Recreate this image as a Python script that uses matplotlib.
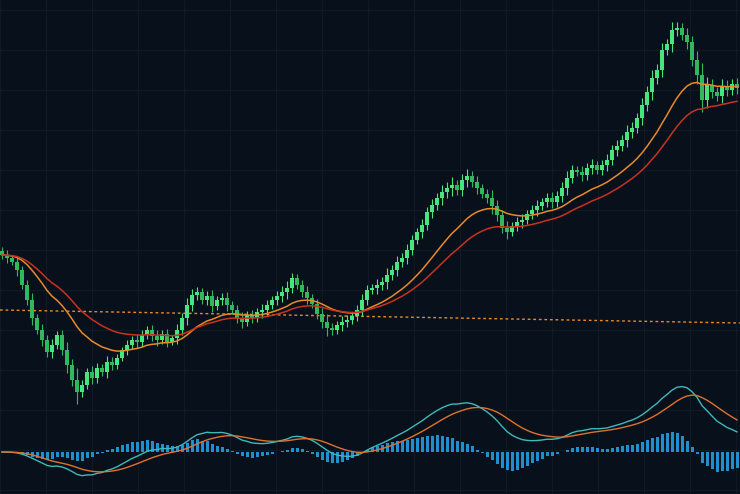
import numpy as np
import pandas as pd
import matplotlib
matplotlib.use('Agg')
import matplotlib.pyplot as plt

# closes in screen-level units (smaller = higher on the chart)
closes = [255, 258, 262, 270, 285, 300, 318, 330, 340, 352,
          345, 335, 350, 365, 380, 392, 385, 372, 378, 368,
          372, 362, 365, 358, 350, 345, 340, 342, 335, 330,
          336, 340, 334, 342, 338, 330, 318, 305, 295, 292,
          300, 296, 306, 300, 298, 305, 310, 318, 322, 315,
          318, 312, 310, 305, 300, 296, 292, 288, 278, 285,
          292, 298, 304, 314, 322, 328, 330, 325, 322, 320,
          316, 310, 300, 290, 288, 285, 282, 275, 270, 262,
          258, 250, 240, 232, 225, 212, 205, 198, 192, 188,
          185, 190, 180, 176, 182, 188, 194, 198, 206, 215,
          228, 232, 226, 222, 220, 214, 210, 206, 202, 198,
          202, 196, 188, 178, 170, 172, 175, 168, 165, 170,
          165, 160, 150, 146, 140, 132, 128, 118, 105, 92,
          78, 70, 50, 44, 30, 28, 35, 42, 60, 75,
          100, 85, 92, 96, 86, 90, 84, 88]
wicks = [4, 5, 3, 6, 4, 5, 7, 4, 6, 5,
         6, 4, 5, 8, 6, 12, 5, 4, 6, 5,
         4, 6, 5, 4, 3, 5, 4, 6, 5, 4,
         5, 6, 4, 5, 3, 6, 5, 7, 6, 5,
         4, 5, 6, 4, 5, 6, 4, 5, 6, 4,
         5, 4, 6, 5, 4, 5, 6, 7, 5, 4,
         5, 6, 4, 5, 6, 8, 5, 4, 6, 5,
         4, 5, 6, 5, 4, 6, 5, 7, 5, 6,
         5, 6, 5, 4, 6, 5, 6, 5, 7, 6,
         8, 5, 6, 7, 5, 6, 4, 5, 8, 6,
         5, 7, 4, 5, 6, 4, 5, 6, 4, 5,
         6, 5, 6, 7, 5, 4, 6, 5, 6, 4,
         5, 6, 5, 6, 5, 7, 6, 5, 7, 6,
         8, 6, 7, 5, 8, 6, 5, 7, 6, 9,
         12, 8, 6, 5, 7, 6, 5, 6]
dotted_ends = [310, 323]

bg = '#08111b'
fig = plt.figure(figsize=(7.4, 4.94), dpi=100, facecolor=bg)
ax = fig.add_axes([0, 0, 1, 1])
ax.set_facecolor(bg)
ax.set_xlim(0, 740)
ax.set_ylim(494, 0)
ax.axis('off')

for gx in np.arange(0, 740, 46):
    ax.axvline(gx, color='#111c27', lw=0.6, zorder=0)
for gy in np.arange(10, 494, 40):
    ax.axhline(gy, color='#111c27', lw=0.6, zorder=0)

c = np.array(closes, dtype=float)
o = np.concatenate([[c[0] - 4], c[:-1]])
w = np.array(wicks, dtype=float)
x = 2 + 5 * np.arange(len(c))
hi = np.minimum(o, c) - w
lo = np.maximum(o, c) + w
up = c < o
cols = np.where(up, '#4ae47e', '#32b85c')
ax.vlines(x, hi, lo, color=cols, lw=0.8, zorder=3)
ax.bar(x, np.maximum(np.abs(c - o), 2), bottom=np.minimum(o, c), width=3.4,
       color=cols, zorder=4)

s = pd.Series(c)
ax.plot(x, s.ewm(span=18, adjust=False).mean(), color='#e8892a', lw=1.1, zorder=5)
ax.plot(x, s.ewm(span=30, adjust=False).mean(), color='#c8321e', lw=1.1, zorder=5)
ax.plot([0, 740], dotted_ends, color='#e8892a', lw=1.0, ls=(0, (2, 2)), zorder=2)

# MACD panel, drawn in the same space
price = pd.Series(494 - c)
macd = price.ewm(span=12).mean() - price.ewm(span=26).mean()
sig = macd.ewm(span=9).mean()
hist = macd - sig
base = 452
ax.bar(x, -hist * 2.2, bottom=base, width=3.0, color='#1f8fd0', zorder=3)
ax.plot(x, base - macd * 1.6, color='#3fb8b8', lw=1.0, zorder=4)
ax.plot(x, base - sig * 1.6, color='#e0712a', lw=1.0, zorder=4)

fig.savefig('out.png', dpi=100, facecolor=bg)
